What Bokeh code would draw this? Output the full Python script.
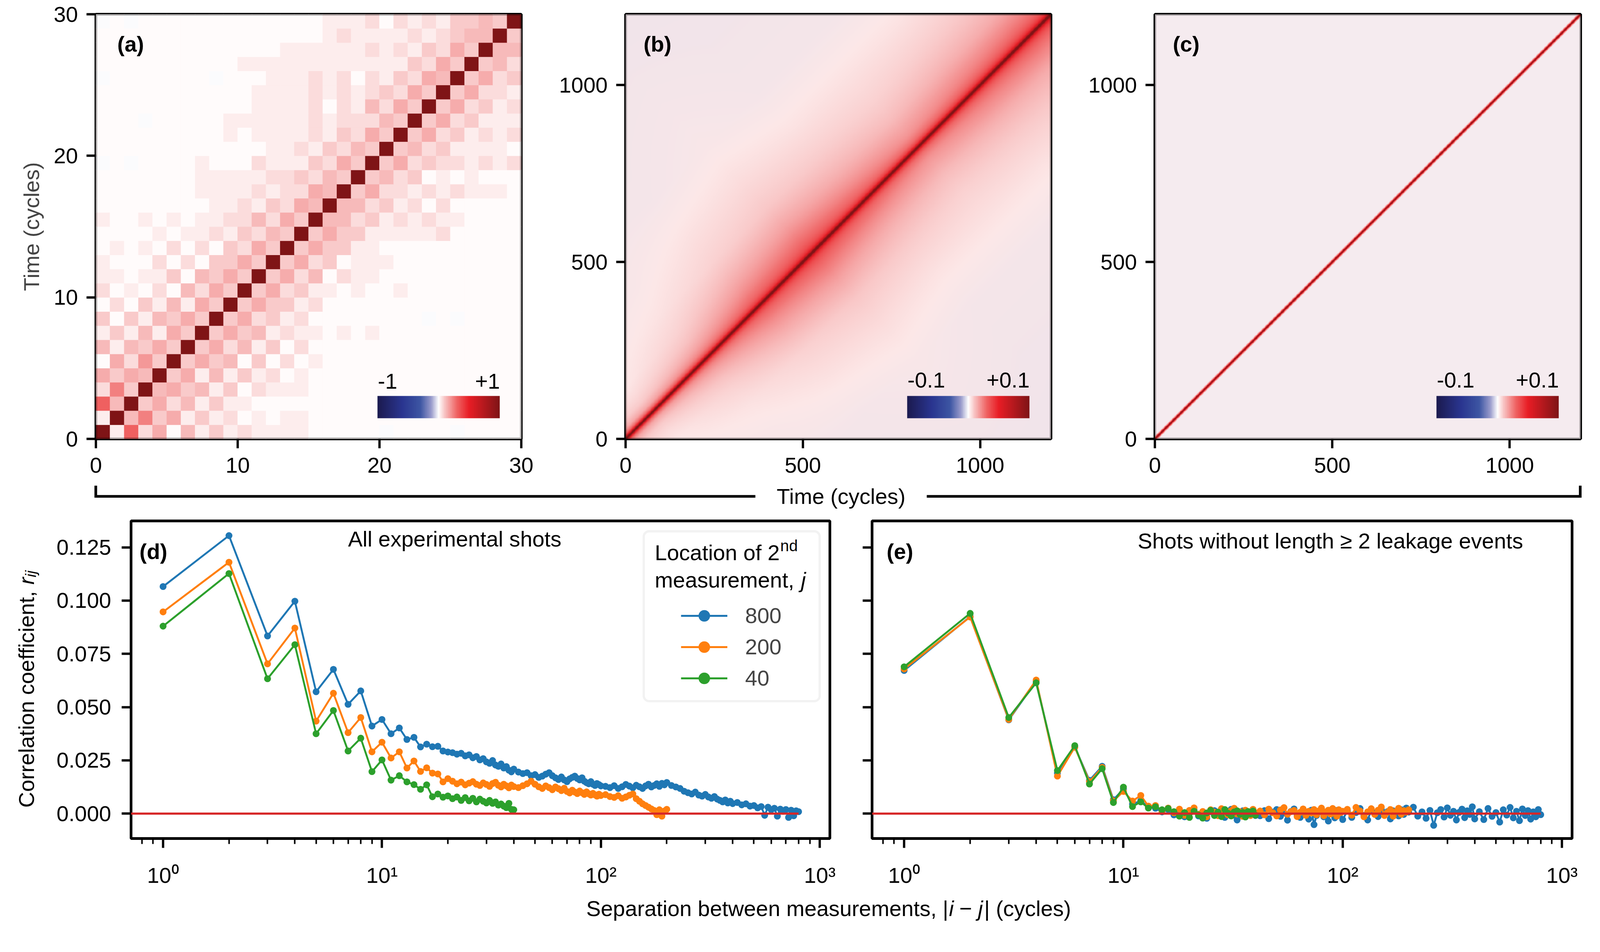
import numpy as np
from bokeh.plotting import figure
from bokeh.models import (Range1d, FixedTicker, ColumnDataSource, Label, Legend, LegendItem,
                          ColorBar, LinearColorMapper, BoxAnnotation, NumeralTickFormatter,
                          CustomJSTickFormatter)
from bokeh.layouts import column, row
from bokeh.embed import file_html
from bokeh.resources import INLINE

# ======================= DATA =======================
# (a) 30x30 correlation matrix, one string per row (time 0 first); chars are read colour levels
A_ROWS = [
    "D192504131" "2111100000" "-0000-0000",
    "1D47351312" "0101100000" "0000000000",
    "94D3524131" "1000000000" "0000000000",
    "273D453413" "0211100000" "0000000000",
    "5354D35141" "3120100000" "0000000000",
    "05263D3534" "0302010000" "0000000000",
    "414353D352" "4130200000" "0000000000",
    "1314153D35" "3412110101" "0000000000",
    "30314353D3" "5231200000" "000-0-0000",
    "020314153D" "3533120000" "0000000000",
    "2010204253" "D352311010" "0100000000",
    "1101130435" "3D35240211" "0000000000",
    "1000202033" "53D3523011" "1000000000",
    "0101020203" "253D353311" "0000000000",
    "0000101121" "3243D35331" "1111200000",
    "1001010112" "24253D4423" "1212110000",
    "0000000011" "213254D442" "3120200000",
    "0000000111" "1212254D35" "2212121110",
    "0000000111" "11223243D3" "4230101000",
    "-0-0000100" "021113253D" "3523221212",
    "0000000000" "0011213243" "D342311110",
    "0000000001" "0111121325" "3D35231212",
    "000-000001" "1111121222" "43D3523111",
    "0000000000" "0111120214" "253D352312",
    "0000000000" "0111121212" "3253D35221",
    "-0000000-0" "0011121202" "13254D3523",
    "0000000000" "1111111111" "113253D342",
    "0000000000" "0001111112" "1213253D44",
    "0000000000" "0000001211" "11212344D3",
    "-0-0000000" "0000001112" "021213343D",
]
A_LEVELS = {"-": -0.005, "0": 0.006, "1": 0.03, "2": 0.06, "3": 0.09, "4": 0.12,
            "5": 0.15, "6": 0.19, "7": 0.24, "8": 0.28, "9": 0.31, "D": 1.0}

# (b) correlation read at positions along the diagonal (cycles) and separations (cycles)
B_POS = [75, 225, 375, 525, 675, 825, 975, 1125]
B_LAGS = [0, 2, 4, 8, 15, 30, 60, 100, 150, 250, 400, 600, 1200]
B_VALUES = [
    [1.0, 0.11, 0.080, 0.050, 0.030, 0.016, 0.009, 0.006, 0.004, 0.003, 0.002, 0.002, 0.001],
    [1.0, 0.12, 0.085, 0.055, 0.036, 0.024, 0.016, 0.011, 0.008, 0.005, 0.003, 0.002, 0.001],
    [1.0, 0.13, 0.090, 0.060, 0.042, 0.032, 0.025, 0.019, 0.014, 0.008, 0.005, 0.002, 0.001],
    [1.0, 0.13, 0.095, 0.065, 0.046, 0.036, 0.029, 0.023, 0.017, 0.010, 0.006, 0.003, 0.001],
    [1.0, 0.13, 0.090, 0.062, 0.043, 0.032, 0.025, 0.019, 0.014, 0.009, 0.005, 0.002, 0.001],
    [1.0, 0.13, 0.088, 0.058, 0.040, 0.028, 0.020, 0.016, 0.012, 0.008, 0.005, 0.002, 0.001],
    [1.0, 0.13, 0.090, 0.062, 0.043, 0.032, 0.024, 0.019, 0.014, 0.009, 0.005, 0.002, 0.001],
    [1.0, 0.13, 0.095, 0.065, 0.046, 0.035, 0.027, 0.021, 0.015, 0.010, 0.006, 0.002, 0.001],
]
B_NOISE = 0.004
# (c) correlation by separation (cycles)
C_LAGS = [0, 2, 4, 6, 8, 10, 1200]
C_VALUES = [1.0, 0.07, 0.045, 0.02, 0.012, 0.001, 0.001]
C_NOISE = 0.003

# (d), (e) correlation coefficient vs separation
LAGS_800 = (list(range(1, 41)) + list(range(42, 101, 2)) + list(range(105, 201, 5))
            + list(range(210, 401, 10)) + list(range(420, 801, 20)))
LAGS_200 = list(range(1, 41)) + list(range(42, 101, 2)) + list(range(105, 201, 5))
LAGS_40 = list(range(1, 41))

D_R800 = [0.1066, 0.1305, 0.0834, 0.0997, 0.0572, 0.0677, 0.0513, 0.0576, 0.0411, 0.0442,
          0.0375, 0.0402, 0.0348, 0.0358, 0.0313, 0.0326, 0.0314, 0.0316, 0.0294, 0.0289,
          0.0286, 0.0279, 0.0283, 0.0271, 0.0276, 0.0262, 0.0268, 0.0252, 0.0258, 0.0243,
          0.0236, 0.0249, 0.0228, 0.0222, 0.0233, 0.0214, 0.0221, 0.0204, 0.0196, 0.0209,
          0.0195, 0.0188, 0.0192, 0.0178, 0.0183, 0.0170, 0.0176, 0.0185, 0.0192, 0.0178,
          0.0168, 0.0160, 0.0172, 0.0158, 0.0150, 0.0163, 0.0170, 0.0176, 0.0165, 0.0158,
          0.0168, 0.0152, 0.0145, 0.0140, 0.0150, 0.0138, 0.0132, 0.0141, 0.0136, 0.0130,
          0.0128, 0.0122, 0.0131, 0.0118, 0.0126, 0.0137, 0.0129, 0.0121, 0.0133, 0.0126,
          0.0118, 0.0130, 0.0138, 0.0125, 0.0132, 0.0140, 0.0128, 0.0142, 0.0135, 0.0146,
          0.0132, 0.0125, 0.0118, 0.0105, 0.0098, 0.0092, 0.0101, 0.0087, 0.0082, 0.0090,
          0.0078, 0.0072, 0.0080, 0.0068, 0.0062, 0.0055, 0.0064, 0.0050, 0.0058, 0.0047,
          0.0052, 0.0041, 0.0046, 0.0035, 0.0038, 0.0027, 0.0033, -0.0008, 0.0030, 0.0018,
          0.0025, -0.0012, 0.0021, 0.0011, 0.0019, -0.0018, 0.0016, -0.0010, 0.0013, 0.0009]
D_R200 = [0.0947, 0.1180, 0.0703, 0.0871, 0.0434, 0.0565, 0.0380, 0.0451, 0.0290, 0.0335,
          0.0261, 0.0290, 0.0214, 0.0247, 0.0198, 0.0215, 0.0190, 0.0186, 0.0149, 0.0164,
          0.0152, 0.0140, 0.0148, 0.0135, 0.0143, 0.0150, 0.0138, 0.0132, 0.0144, 0.0137,
          0.0128, 0.0141, 0.0147, 0.0133, 0.0125, 0.0138, 0.0130, 0.0121, 0.0134, 0.0127,
          0.0122, 0.0131, 0.0140, 0.0152, 0.0138, 0.0126, 0.0118, 0.0130, 0.0122, 0.0112,
          0.0125, 0.0117, 0.0108, 0.0119, 0.0104, 0.0097, 0.0110, 0.0101, 0.0094, 0.0106,
          0.0098, 0.0090, 0.0102, 0.0093, 0.0087, 0.0095, 0.0088, 0.0082, 0.0091, 0.0085,
          0.0089, 0.0080, 0.0076, 0.0084, 0.0072, 0.0078, 0.0086, 0.0092, 0.0070, 0.0058,
          0.0046, 0.0038, 0.0030, 0.0022, 0.0015, -0.0005, 0.0018, -0.0012, 0.0012, 0.0020]
D_R40 = [0.0880, 0.1127, 0.0633, 0.0793, 0.0375, 0.0484, 0.0294, 0.0354, 0.0197, 0.0252,
         0.0157, 0.0178, 0.0149, 0.0136, 0.0114, 0.0135, 0.0079, 0.0092, 0.0077, 0.0083,
         0.0070, 0.0078, 0.0062, 0.0075, 0.0060, 0.0072, 0.0055, 0.0068, 0.0058, 0.0050,
         0.0062, 0.0048, 0.0055, 0.0040, 0.0045, 0.0035, 0.0028, 0.0048, 0.0020, 0.0018]

E_R800 = [0.0672, 0.0925, 0.0440, 0.0622, 0.0190, 0.0312, 0.0156, 0.0222, 0.0065, 0.0115,
          0.0045, 0.0060, 0.0030,
          0.0025, 0.0008, 0.0019, -0.0006, 0.0012, -0.0015, 0.0004, 0.0017, -0.0011, 0.0006,
          -0.0022, 0.0009, 0.0014, -0.0005, 0.0002, -0.0018, 0.0011, 0.0020, -0.0008, -0.0030,
          0.0005, 0.0013, -0.0012, 0.0007, -0.0004, 0.0016, -0.0009,
          -0.0010, 0.0014, -0.0024, 0.0007, 0.0019, -0.0013, 0.0003, -0.0031, 0.0010, 0.0022,
          -0.0007, -0.0018, 0.0012, 0.0004, -0.0026, 0.0016, -0.0052, -0.0009, 0.0008, 0.0021,
          -0.0015, 0.0002, -0.0035, 0.0011, 0.0006, -0.0020, 0.0015, -0.0004, 0.0009, -0.0028,
          0.0012, -0.0018, 0.0005, 0.0024, -0.0009, -0.0030, 0.0016, 0.0003, -0.0014, 0.0020,
          -0.0006, 0.0009, -0.0025, 0.0013, 0.0001, -0.0011, 0.0018, -0.0004, 0.0026, 0.0007,
          0.0030, -0.0012, 0.0008, -0.0022, 0.0015, -0.0055, 0.0004, 0.0019, -0.0016, 0.0027,
          -0.0008, 0.0011, -0.0030, 0.0006, 0.0021, -0.0019, 0.0013, -0.0004, 0.0032, -0.0025,
          0.0009, -0.0028, 0.0024, -0.0013, 0.0005, -0.0040, 0.0018, -0.0007, 0.0029, -0.0020,
          0.0011, -0.0033, 0.0022, -0.0009, 0.0014, -0.0026, 0.0008, -0.0015, 0.0019, -0.0005]
E_R200 = [0.0679, 0.0923, 0.0442, 0.0627, 0.0176, 0.0312, 0.0150, 0.0217, 0.0060, 0.0104,
          0.0059, 0.0085, 0.0035,
          0.0038, 0.0012, 0.0026, 0.0004, 0.0021, -0.0008, 0.0015, 0.0027, -0.0003, 0.0010,
          -0.0015, 0.0018, 0.0006, -0.0010, 0.0023, 0.0001, -0.0006, 0.0014, 0.0025, -0.0002,
          0.0009, -0.0013, 0.0016, 0.0004, -0.0009, 0.0020, 0.0003,
          0.0012, -0.0006, 0.0021, 0.0004, -0.0011, 0.0017, 0.0028, -0.0003, 0.0009, 0.0015,
          -0.0014, 0.0006, 0.0022, -0.0008, 0.0011, 0.0003, 0.0019, -0.0005, 0.0013, 0.0026,
          -0.0010, 0.0007, 0.0016, -0.0002, 0.0024, 0.0008, -0.0012, 0.0018, 0.0005, 0.0011,
          0.0020, -0.0007, 0.0029, 0.0012, -0.0015, 0.0008, 0.0023, -0.0004, 0.0016, 0.0031,
          -0.0009, 0.0006, 0.0019, -0.0012, 0.0010, 0.0025, -0.0003, 0.0014, 0.0007, 0.0018]
E_R40 = [0.0689, 0.0940, 0.0451, 0.0614, 0.0202, 0.0319, 0.0139, 0.0211, 0.0052, 0.0124,
         0.0033, 0.0055, 0.0026,
         0.0032, 0.0018, 0.0024, 0.0009, -0.0012, 0.0005, -0.0018, 0.0011, -0.0006, -0.0021,
         0.0003, 0.0015, -0.0009, 0.0007, -0.0014, 0.0019, 0.0002, -0.0011, 0.0008, 0.0013,
         -0.0004, 0.0006, -0.0016, 0.0010, -0.0002, 0.0012, -0.0007]

SERIES_LABELS = ["800", "200", "40"]
SERIES_COLORS = ["#1f77b4", "#ff7f0e", "#2ca02c"]
ZERO_COLOR = "#d62728"
Y_TICKS = [0.0, 0.025, 0.05, 0.075, 0.1, 0.125]
HEAT_TICKS_A = [0, 10, 20, 30]
HEAT_TICKS_BC = [0, 500, 1000]

# ======================= LAYOUT / STYLE =======================
# all layout numbers below are in target-picture pixels; ZOOM converts them to CSS pixels
ZOOM = 1.021


def P(x):  # picture page coordinate -> CSS page coordinate
    return int(round(x / ZOOM))


def L(v):  # picture length -> CSS length
    return v / ZOOM


def FSZ(v):
    return "%.2fpx" % (v / ZOOM)


FONT = "Liberation Sans"
FS = FSZ(57)
PAGE_L, PAGE_R = 8 * ZOOM, 4190

CMAP_POS = [-1.0, -0.6, -0.3, -0.12, 0.0, 0.1, 0.3, 0.5, 1.0]
CMAP_HEX = ["#1b1a4f", "#2a3590", "#3d56a3", "#9a9ccc", "#ffffff", "#f8c4c4", "#ef6363", "#e81d25", "#7f1416"]
_CM = np.array([[int(h[i:i + 2], 16) for i in (1, 3, 5)] for h in CMAP_HEX], dtype=float)


def cmap_rgb(u):
    u = np.clip(np.asarray(u, dtype=float), -1, 1)
    return np.stack([np.interp(u, CMAP_POS, _CM[:, k]) for k in range(3)], axis=-1)


def to_hex(rgb):
    r, g, b = [int(round(float(c))) for c in rgb]
    return "#%02x%02x%02x" % (r, g, b)


PALETTE = [to_hex(c) for c in cmap_rgb(np.linspace(-1, 1, 256))]


def rgba_image(vals, vmax, noise):
    rgb = 0.5 * (cmap_rgb((vals - noise) / vmax) + cmap_rgb((vals + noise) / vmax))
    h, w = vals.shape
    img = np.zeros((h, w), dtype=np.uint32)
    view = img.view(dtype=np.uint8).reshape((h, w, 4))
    for k in range(3):
        view[..., k] = np.round(rgb[..., k]).astype(np.uint8)
    view[..., 3] = 255
    return img


def style_axes(p, xs, ys):
    p.grid.visible = False
    for ax in p.axis:
        ax.axis_line_color = None
        ax.major_tick_out = int(round(L(25)))
        ax.major_tick_in = 0
        ax.major_tick_line_width = L(6)
        ax.minor_tick_out = int(round(L(14)))
        ax.minor_tick_in = 0
        ax.minor_tick_line_width = L(4)
        ax.major_label_text_font = FONT
        ax.major_label_text_font_size = FS
        ax.major_label_text_color = "black"
        ax.axis_label_text_font = FONT
        ax.axis_label_text_font_size = FS
        ax.axis_label_text_font_style = "normal"
    p.xaxis.major_label_standoff = int(round(L(xs)))
    p.yaxis.major_label_standoff = int(round(L(ys)))


def add_label(p, x, y, text, size=57, style="normal", align="left", units="screen", angle=0):
    """(x, y) is the left/centre point of the text, vertically at the middle of its capitals."""
    if units == "screen":
        x, y = L(x), L(y)
    p.add_layout(Label(x=x, y=y, x_units=units, y_units=units, text=text, text_font=FONT,
                       text_font_size=FSZ(size), text_font_style=style, text_align=align,
                       text_baseline="middle", angle=angle, angle_units="deg", text_color="black"))


def page_figure(x0, x1, y0, y1):
    p = figure(frame_width=P(x1) - P(x0), frame_height=P(y1) - P(y0),
               x_range=Range1d(P(x0) * ZOOM, P(x1) * ZOOM), y_range=Range1d(P(y1) * ZOOM, P(y0) * ZOOM),
               min_border=0, x_axis_location=None, y_axis_location=None,
               output_backend="svg", toolbar_location=None)
    p.outline_line_color = None
    p.grid.visible = False
    return p


# row 1 geometry (picture px)
R1_TOP, R1_FT, R1_FB, R1_BOT = PAGE_L, 45, 1155, 1274
A_FL, A_FR, AB = 258, 1370, 1420
B_FL, B_FR, BC = 1643, 2755, 2805
C_FL, C_FR = 3026, 4139


def heat_figure(x0, fl, fr, x1, rng, ticks):
    p = figure(frame_width=P(fr) - P(fl), frame_height=P(R1_FB) - P(R1_FT),
               x_range=Range1d(0, rng), y_range=Range1d(0, rng),
               min_border_left=P(fl) - P(x0), min_border_right=P(x1) - P(fr),
               min_border_top=P(R1_FT) - P(R1_TOP), min_border_bottom=P(R1_BOT) - P(R1_FB),
               output_backend="svg", toolbar_location=None)
    p.outline_line_color = "black"
    p.outline_line_width = L(7)
    p.background_fill_color = "white"
    p.xaxis.ticker = FixedTicker(ticks=ticks, minor_ticks=[])
    p.yaxis.ticker = FixedTicker(ticks=ticks, minor_ticks=[])
    style_axes(p, 24, 22)
    return p


def heat_decor(p, rng, letter, letter_x, lo_txt, hi_txt, vmax, lab_y):
    p.add_layout(BoxAnnotation(left=0, right=rng, bottom=0, top=rng, fill_color=None,
                               line_color="black", line_width=L(7)))
    cb = ColorBar(color_mapper=LinearColorMapper(palette=PALETTE, low=-vmax, high=vmax),
                  orientation="horizontal", location=(L(736), L(54)),
                  width=int(round(L(320))), height=int(round(L(58))),
                  padding=0, margin=0, ticker=FixedTicker(ticks=[]), label_standoff=0,
                  major_tick_line_color=None, minor_tick_line_color=None,
                  bar_line_color=None, border_line_color=None, background_fill_alpha=0)
    p.add_layout(cb)
    add_label(p, letter_x, 1032, letter, style="bold")
    add_label(p, 737, lab_y, lo_txt)
    add_label(p, 1056, lab_y, hi_txt, align="right")


# ----- (a) -----
pa = heat_figure(R1_TOP, A_FL, A_FR, AB, 30, HEAT_TICKS_A)
ax_, ay_, ac_ = [], [], []
for j, rowstr in enumerate(A_ROWS):
    for i, ch in enumerate(rowstr):
        ax_.append(i + 0.5)
        ay_.append(j + 0.5)
        ac_.append(to_hex(cmap_rgb(A_LEVELS[ch])))
pa.rect(x="x", y="y", width=1, height=1, fill_color="c", line_color="c", line_width=1,
        source=ColumnDataSource(dict(x=ax_, y=ay_, c=ac_)))
pa.yaxis.axis_label = "Time (cycles)"
pa.yaxis.axis_label_standoff = int(round(L(22)))
heat_decor(pa, 30, "(a)", 56, "-1", "+1", 1.0, 151)

# ----- (b), (c) images -----
NPIX = 600
centers = (np.arange(NPIX) + 0.5) * (1200 / NPIX)
CX, CY = np.meshgrid(centers, centers)
LAG = np.abs(CX - CY)
MID = (CX + CY) / 2
LLAG = np.log1p(LAG)
stack = np.stack([np.interp(LLAG, np.log1p(B_LAGS), rowv) for rowv in B_VALUES])
fidx = np.interp(MID, B_POS, np.arange(len(B_POS)))
lo = np.floor(fidx).astype(int)
hi = np.minimum(lo + 1, len(B_POS) - 1)
w = fidx - lo
rr, cc = np.indices(LAG.shape)
B_VAL = (1 - w) * stack[lo, rr, cc] + w * stack[hi, rr, cc]
B_IMG = rgba_image(B_VAL, 0.1, B_NOISE)
C_VAL = np.interp(LAG, C_LAGS, C_VALUES)
C_IMG = rgba_image(C_VAL, 0.1, C_NOISE)

pb = heat_figure(AB, B_FL, B_FR, BC, 1200, HEAT_TICKS_BC)
pb.image_rgba(image=[B_IMG], x=0, y=0, dw=1200, dh=1200)
heat_decor(pb, 1200, "(b)", 47, "-0.1", "+0.1", 0.1, 154)

pc = heat_figure(BC, C_FL, C_FR, PAGE_R, 1200, HEAT_TICKS_BC)
pc.image_rgba(image=[C_IMG], x=0, y=0, dw=1200, dh=1200)
heat_decor(pc, 1200, "(c)", 47, "-0.1", "+0.1", 0.1, 154)

# ----- bracket with shared "Time (cycles)" -----
BR_FIG_BOTTOM = 1345
pbr = page_figure(PAGE_L, PAGE_R, R1_BOT, BR_FIG_BOTTOM)
BR_L, BR_R, BR_Y, BR_TOP, TXT_C, GAP = 258, 4138, 1305, 1277, 2206, 224
pbr.multi_line(xs=[[BR_L, BR_L, TXT_C - GAP], [TXT_C + GAP, BR_R, BR_R]],
               ys=[[BR_TOP, BR_Y, BR_Y], [BR_Y, BR_Y, BR_TOP]],
               line_color="black", line_width=L(7), line_join="miter")
add_label(pbr, TXT_C, BR_Y, "Time (cycles)", align="center", units="data")

# ----- (d), (e) -----
X_MIN, X_MAX = 0.714, 1112.0
Y_MIN, Y_MAX = -0.0117, 0.1374
X_MAJOR = [1, 10, 100, 1000]
X_MINOR = [m * 10.0 ** e for e in range(-1, 3) for m in range(2, 10) if X_MIN <= m * 10.0 ** e <= X_MAX]
LOG_FMT = CustomJSTickFormatter(code="""
const e = Math.round(Math.log10(tick));
const s = {"0": "\u2070", "1": "\u00b9", "2": "\u00b2", "3": "\u00b3"};
return "10" + (s[String(e)] || "");
""")
R2_TOP, R2_FT, R2_FB, R2_BOT = BR_FIG_BOTTOM, 1369, 2199, 2349
YL_R = 148
D_FL, D_FR, DE = 350, 2177, 2232
E_FL, E_FR = 2287, 4117


def corr_figure(x0, fl, fr, x1, r800, r200, r40, show_y):
    p = figure(frame_width=P(fr) - P(fl), frame_height=P(R2_FB) - P(R2_FT), x_axis_type="log",
               x_range=Range1d(X_MIN, X_MAX), y_range=Range1d(Y_MIN, Y_MAX),
               min_border_left=P(fl) - P(x0), min_border_right=P(x1) - P(fr),
               min_border_top=P(R2_FT) - P(R2_TOP), min_border_bottom=P(R2_BOT) - P(R2_FB),
               output_backend="svg", toolbar_location=None)
    p.outline_line_color = "black"
    p.outline_line_width = L(7)
    p.xaxis.ticker = FixedTicker(ticks=X_MAJOR, minor_ticks=X_MINOR)
    p.xaxis.formatter = LOG_FMT
    p.yaxis.ticker = FixedTicker(ticks=Y_TICKS, minor_ticks=[])
    if show_y:
        p.yaxis.formatter = NumeralTickFormatter(format="0.000")
    else:
        p.yaxis.formatter = CustomJSTickFormatter(code="return '';")
    style_axes(p, 39, 28)
    rends = []
    for lags, vals, col in ((LAGS_800, r800, SERIES_COLORS[0]), (LAGS_200, r200, SERIES_COLORS[1]),
                            (LAGS_40, r40, SERIES_COLORS[2])):
        rl = p.line(lags, vals, line_color=col, line_width=L(5))
        rs = p.scatter(lags, vals, size=L(18), fill_color=col, line_color=None)
        rends.append((rl, rs))
    p.line([X_MIN, max(LAGS_800)], [0, 0], line_color=ZERO_COLOR, line_width=L(5.5))
    return p, rends


pd_, rends_d = corr_figure(YL_R, D_FL, D_FR, DE, D_R800, D_R200, D_R40, True)
pe_, _ = corr_figure(DE, E_FL, E_FR, PAGE_R, E_R800, E_R200, E_R40, False)

add_label(pd_, 22, 750, "(d)", style="bold")
add_label(pd_, 846, 783, "All experimental shots", align="center")
pd_.add_layout(BoxAnnotation(left=L(1340), right=L(1800), bottom=L(359), top=L(803),
                             left_units="screen", right_units="screen", top_units="screen",
                             bottom_units="screen", fill_color="white", fill_alpha=0.8,
                             line_color="#d5d5d5", line_width=L(6), border_radius=int(round(L(14)))))
legend = Legend(items=[LegendItem(label=lab, renderers=list(r)) for lab, r in zip(SERIES_LABELS, rends_d)],
                location=(L(1438), L(381)), padding=0, margin=0, spacing=int(round(L(6))),
                glyph_width=int(round(L(121))), glyph_height=int(round(L(76))),
                label_standoff=int(round(L(46))), label_height=int(round(L(76))),
                label_text_font=FONT, label_text_font_size=FS,
                border_line_color=None, background_fill_alpha=0)
pd_.add_layout(legend)
add_label(pd_, 1369, 747, "Location of 2")
add_label(pd_, 1697, 765, "nd", size=41)
add_label(pd_, 1369, 676, "measurement,")
add_label(pd_, 1751, 676, "j", style="italic")

add_label(pe_, 38, 750, "(e)", style="bold")
add_label(pe_, 1198, 778, "Shots without length \u2265 2 leakage events", align="center")

# ----- y label for (d) -----
pyl = page_figure(PAGE_L, YL_R, R2_TOP, R2_BOT)
YL_X, YL_Y0 = 77, 2094
add_label(pyl, YL_X, YL_Y0, "Correlation coefficient,", units="data", angle=90)
add_label(pyl, YL_X, YL_Y0 - 583, "r", style="italic", units="data", angle=90)
add_label(pyl, YL_X + 11, YL_Y0 - 602, "ij", size=40, style="italic", units="data", angle=90)

# ----- shared x label -----
pbt = page_figure(PAGE_L, PAGE_R, R2_BOT, 2425)
XB, YB = 1540, 2382
add_label(pbt, XB, YB, "Separation between measurements, |", units="data")
add_label(pbt, XB + 948, YB, "i", style="italic", units="data")
add_label(pbt, XB + 975, YB, "\u2212", units="data")
add_label(pbt, XB + 1024, YB, "j", style="italic", units="data")
add_label(pbt, XB + 1040, YB, "| (cycles)", units="data")

layout = column(row(pa, pb, pc), pbr, row(pyl, pd_, pe_), pbt)

with open("out.html", "w", encoding="utf-8") as f:
    f.write(file_html(layout, INLINE))
